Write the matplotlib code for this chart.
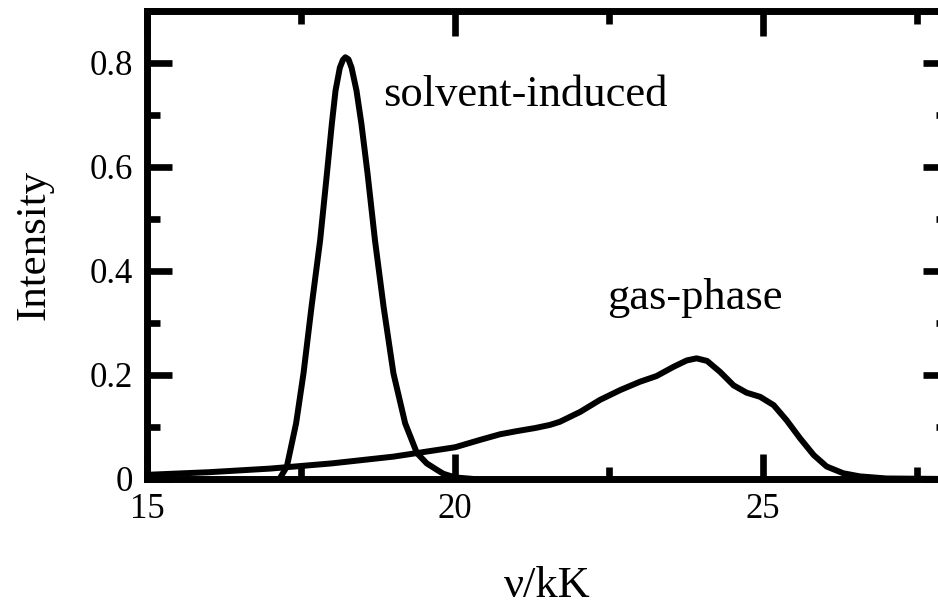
import numpy as np
import matplotlib
matplotlib.use("Agg")
import matplotlib.pyplot as plt
from matplotlib.ticker import MultipleLocator

# ----------------------------------------------------------------------
# data (wavenumber in kK, intensity)
# ----------------------------------------------------------------------
solv_x = [17.15, 17.27, 17.42, 17.54, 17.67, 17.81, 17.92, 18.0, 18.06, 18.13,
          18.18, 18.22, 18.27, 18.32, 18.4, 18.48, 18.58, 18.7, 18.84, 19.0,
          19.19, 19.38, 19.54, 19.7, 19.81, 20.0, 20.3]
solv_y = [0.0, 0.024, 0.107, 0.203, 0.331, 0.459, 0.587, 0.683, 0.747, 0.791,
          0.806, 0.811, 0.807, 0.791, 0.747, 0.683, 0.587, 0.459, 0.331, 0.203,
          0.107, 0.05, 0.03, 0.018, 0.01, 0.003, 0.0]

gas_x = [15.0, 16.0, 17.0, 18.0, 19.0, 19.5, 20.0, 20.4, 20.73, 21.0,
         21.3, 21.54, 21.7, 22.03, 22.35, 22.68, 23.0, 23.27, 23.55, 23.76,
         23.92, 24.09, 24.3, 24.52, 24.73, 24.95, 25.17, 25.38, 25.6, 25.82,
         26.03, 26.3, 26.57, 27.0, 28.0]
gas_y = [0.008, 0.013, 0.02, 0.03, 0.043, 0.052, 0.061, 0.075, 0.086, 0.092,
         0.098, 0.104, 0.11, 0.129, 0.152, 0.171, 0.187, 0.198, 0.216, 0.228,
         0.232, 0.227, 0.206, 0.18, 0.166, 0.158, 0.142, 0.113, 0.078, 0.046,
         0.024, 0.011, 0.005, 0.001, 0.0]

# ----------------------------------------------------------------------
plt.rcParams['font.family'] = ['Liberation Serif', 'DejaVu Serif']

fig = plt.figure(figsize=(9.38, 6.07), dpi=100)
ax = fig.add_axes([0.1567, 0.2109, 0.854, 0.771])

for xs, ys in [(solv_x, solv_y), (gas_x, gas_y)]:
    ax.plot(xs, ys, color='black', lw=4.3, solid_joinstyle='round',
            solid_capstyle='round')

ax.text(18.83, 0.718, "solvent-induced", fontsize=32)
ax.text(22.46, 0.326, "gas-phase", fontsize=32)

ax.set_xlim(15, 28)
ax.set_ylim(0, 0.9)
ax.xaxis.set_major_locator(MultipleLocator(5))
ax.xaxis.set_minor_locator(MultipleLocator(2.5))
ax.set_yticks([0, 0.2, 0.4, 0.6, 0.8])
ax.set_yticklabels(["0", "0.2", "0.4", "0.6", "0.8"])
ax.yaxis.set_minor_locator(MultipleLocator(0.1))

ax.tick_params(which='both', direction='in', top=True, right=True,
               width=4.8, labelsize=25, pad=10)
ax.tick_params(which='major', length=18)
ax.tick_params(which='minor', length=9)
for sp in ax.spines.values():
    sp.set_linewidth(5)

ax.set_xlabel("ν/kK", fontsize=32, labelpad=29)
ax.set_ylabel("Intensity", fontsize=31, labelpad=26)

fig.savefig("out.png", dpi=100)
